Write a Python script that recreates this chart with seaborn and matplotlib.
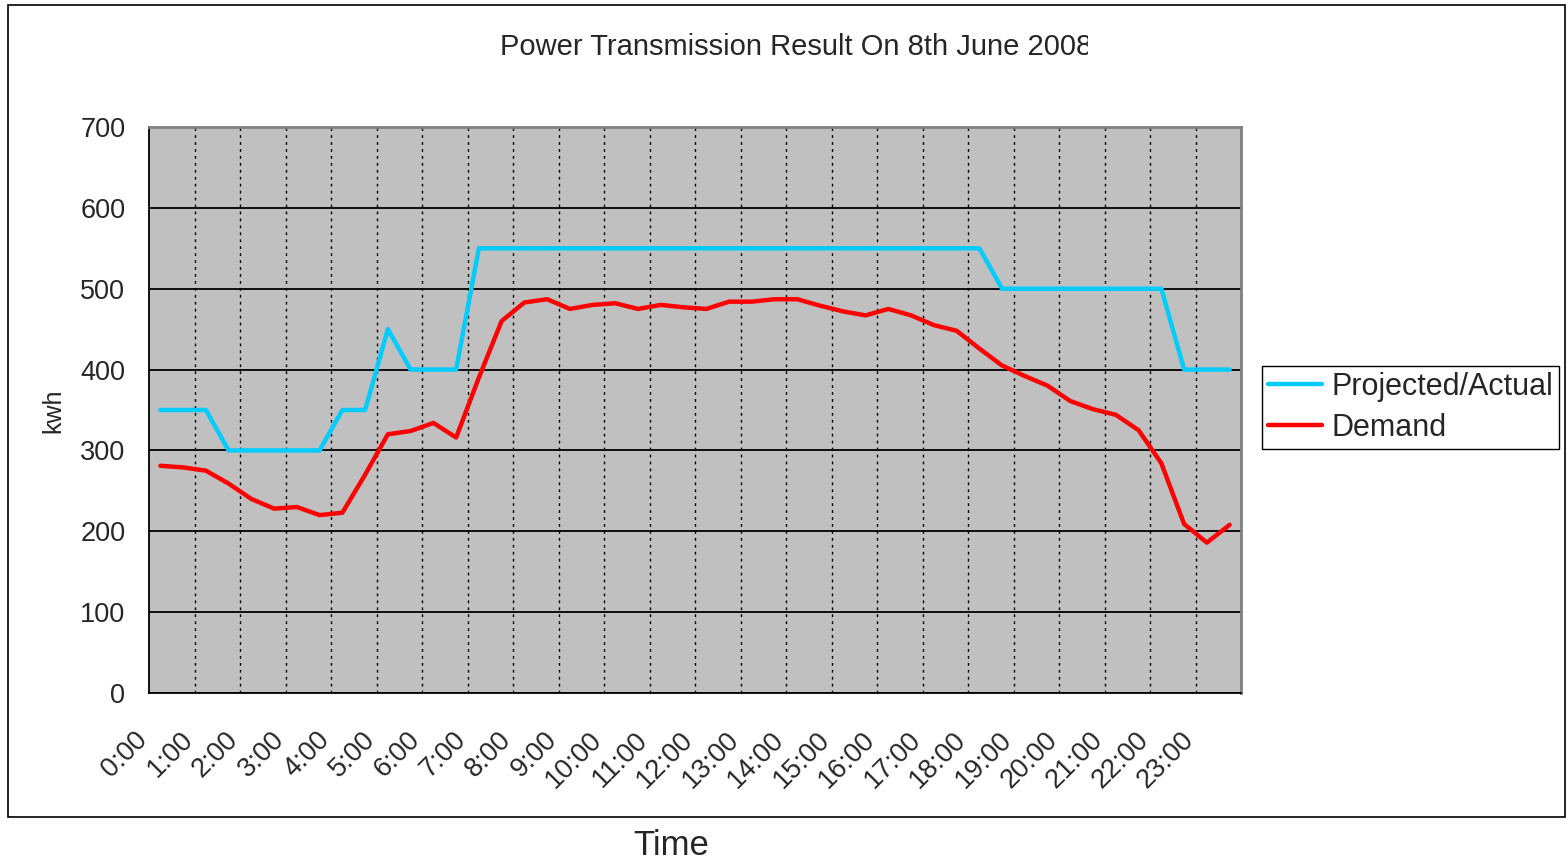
import numpy as np
import pandas as pd
import matplotlib
matplotlib.use("Agg")
import matplotlib.pyplot as plt
import seaborn as sns
from matplotlib.lines import Line2D
from matplotlib.patches import Rectangle
from matplotlib.transforms import Bbox, TransformedBbox, ScaledTranslation

# ---- data (half-hourly slots, labels every hour) ----
hour_labels = [f"{h}:00" for h in range(24)]
slots = list(range(48))
series_names = ["Projected/Actual", "Demand"]
projected_actual = [350, 350, 350, 300, 300, 300, 300, 300, 350, 350,
                    450, 400, 400, 400, 550, 550, 550, 550, 550, 550,
                    550, 550, 550, 550, 550, 550, 550, 550, 550, 550,
                    550, 550, 550, 550, 550, 550, 550, 500, 500, 500,
                    500, 500, 500, 500, 500, 400, 400, 400]
demand = [281, 279, 275, 259, 240, 228, 230, 220, 223, 270,
          320, 324, 334, 316, 390, 460, 483, 487, 475, 480,
          482, 475, 480, 477, 475, 484, 484, 487, 487, 479,
          472, 467, 475, 467, 455, 448, 426, 405, 392, 380,
          361, 351, 344, 325, 284, 209, 186, 208]
title_text = "Power Transmission Result On 8th June 2008"

sns.set_style("white")
plt.rcParams['font.family'] = ['Liberation Sans', 'DejaVu Sans']

df = pd.DataFrame({
    "slot": slots * 2,
    "kwh": projected_actual + demand,
    "series": [series_names[0]] * 48 + [series_names[1]] * 48,
})
palette = {series_names[0]: "#00CCFF", series_names[1]: "#FF0000"}

W, H = 1568, 863
fig = plt.figure(figsize=(W / 100, H / 100), dpi=100)
ax = fig.add_axes([149 / W, 1 - 693 / H, (1241 - 149) / W, (693 - 127) / H])

sns.lineplot(data=df, x="slot", y="kwh", hue="series", palette=palette,
             linewidth=3.2, ax=ax, legend=False, zorder=3)

ax.set_facecolor("#C0C0C0")
ax.set_xlim(-0.5, 47.5)
ax.set_ylim(0, 700)
ax.set_xlabel("")
ax.set_ylabel("")

ax.set_yticks(range(0, 701, 100))
ax.yaxis.grid(True, color="black", linewidth=1.3)
ax.set_xticks(range(0, 48, 2))
ax.set_xticklabels(hour_labels, rotation=45, ha="right", va="center",
                   rotation_mode="anchor", fontsize=19.5)
ax.set_xticks(np.arange(1.5, 47, 2), minor=True)
ax.xaxis.grid(True, which="minor", color="black", linestyle=(0, (2, 3)), linewidth=1)
ax.xaxis.grid(False, which="major")
ax.set_axisbelow(True)
ax.tick_params(axis="x", which="major", length=0, pad=31)
ax.tick_params(axis="x", which="minor", direction="in", length=4, color="black")
ax.tick_params(axis="y", length=4, width=1.2, color="black", labelsize=19.5, pad=13)
offset = ScaledTranslation(-17 / 100, 0, fig.dpi_scale_trans)
for lbl in ax.get_xticklabels():
    lbl.set_transform(lbl.get_transform() + offset)

for s in ["left", "bottom"]:
    ax.spines[s].set_color("black")
    ax.spines[s].set_linewidth(1.3)
for s in ["top", "right"]:
    ax.spines[s].set_color("#808080")
    ax.spines[s].set_linewidth(2)

# legend
handles = [Line2D([], [], color=palette[n], linewidth=3.2) for n in series_names]
leg = ax.legend(handles, series_names, loc="upper left",
                bbox_to_anchor=(1262 / W, 1 - 366 / H), bbox_transform=fig.transFigure,
                frameon=True, fancybox=False, edgecolor="black", framealpha=1,
                fontsize=22, handlelength=1.77, handletextpad=0.3, borderpad=0.2,
                labelspacing=0.35, borderaxespad=0)
leg.get_frame().set_linewidth(1)

# outer chart border
fig.patches.append(Rectangle((8 / W, 1 - 817 / H), (1565 - 8) / W, (817 - 5) / H,
                             transform=fig.transFigure, fill=False,
                             edgecolor="black", linewidth=1.2))

# title (clipped like the original)
t = fig.text(500 / W, 1 - 47 / H, title_text, ha="left", va="center", fontsize=21)
t.set_clip_box(TransformedBbox(Bbox.from_extents(0, 0, 1088 / W, 1), fig.transFigure))
t.set_clip_on(True)

fig.text(53 / W, 1 - 411 / H, "kwh", rotation=90, ha="center", va="center", fontsize=18)
fig.text(671 / W, 1 - 845 / H, "Time", ha="center", va="center", fontsize=25)

fig.savefig("out.png", dpi=100, facecolor="white")
